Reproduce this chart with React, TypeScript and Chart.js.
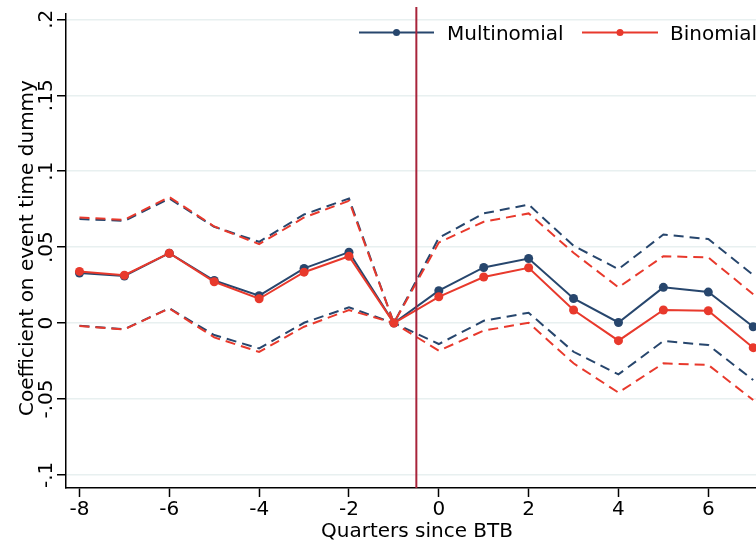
import React, { useEffect, useRef } from "react";
import { Chart, registerables } from "chart.js";

Chart.register(...registerables);

const quarters = [-8, -7, -6, -5, -4, -3, -2, -1, 0, 1, 2, 3, 4, 5, 6, 7];

const multiCoef = [0.033, 0.031, 0.046, 0.028, 0.018, 0.036, 0.0467, 0, 0.0213, 0.0366, 0.0425, 0.0162, 0.0004, 0.0235, 0.0204, -0.0024];
const multiUpper = [0.0685, 0.0673, 0.082, 0.0634, 0.0535, 0.0715, 0.082, 0, 0.0561, 0.0722, 0.078, 0.0509, 0.0355, 0.0583, 0.0553, 0.0316];
const multiLower = [-0.0018, -0.004, 0.0098, -0.0079, -0.0167, 0.0002, 0.0103, 0, -0.0138, 0.0015, 0.0068, -0.0189, -0.0338, -0.0118, -0.0145, -0.0375];

const binCoef = [0.034, 0.0315, 0.046, 0.0272, 0.016, 0.0335, 0.044, 0, 0.0173, 0.0303, 0.0364, 0.0086, -0.0116, 0.0086, 0.0081, -0.0162];
const binUpper = [0.0695, 0.068, 0.083, 0.0636, 0.052, 0.0695, 0.0805, 0, 0.053, 0.0667, 0.0722, 0.0463, 0.0235, 0.044, 0.0432, 0.019];
const binLower = [-0.002, -0.0042, 0.0096, -0.0094, -0.019, -0.0024, 0.0086, 0, -0.0182, -0.005, 0.0002, -0.0265, -0.0458, -0.0265, -0.0276, -0.0507];

const xTicks = [-8, -6, -4, -2, 0, 2, 4, 6];
const xTickLabels = ["-8", "-6", "-4", "-2", "0", "2", "4", "6"];
const yTicks = [-0.1, -0.05, 0, 0.05, 0.1, 0.15, 0.2];
const yTickLabels = ["-.1", "-.05", "0", ".05", ".1", ".15", ".2"];
const eventLine = -0.5;

const seriesNames = ["Multinomial", "Binomial"];
const xTitle = "Quarters since BTB";
const yTitle = "Coefficient on event time dummy";

const NAVY = "#27466d";
const RED = "#e8392c";
const MAROON = "#a8243a";
const FONT = '20px "DejaVu Sans"';

const toPts = (vals: number[]) => quarters.map((q, i) => ({ x: q, y: vals[i] }));

const zeroPad = (s: any) => {
  s.paddingLeft = 0;
  s.paddingRight = 0;
  s.paddingTop = 0;
  s.paddingBottom = 0;
};

const overlay = {
  id: "overlay",
  afterDraw(chart: any) {
    const ctx = chart.ctx as CanvasRenderingContext2D;
    const xs = chart.scales.x;
    const ys = chart.scales.y;
    const area = chart.chartArea;
    ctx.save();
    ctx.font = FONT;
    ctx.fillStyle = "#000";
    // y tick labels (rotated)
    yTicks.forEach((v, i) => {
      const py = ys.getPixelForValue(v);
      ctx.save();
      ctx.translate(52, py);
      ctx.rotate(-Math.PI / 2);
      ctx.textAlign = "center";
      ctx.textBaseline = "alphabetic";
      ctx.fillText(yTickLabels[i], 0, 0);
      ctx.restore();
    });
    // x tick labels
    ctx.textAlign = "center";
    ctx.textBaseline = "alphabetic";
    xTicks.forEach((v, i) => {
      ctx.fillText(xTickLabels[i], xs.getPixelForValue(v), 515);
    });
    // x title
    ctx.fillText(xTitle, 417, 537);
    // y title
    ctx.save();
    ctx.translate(33, 248);
    ctx.rotate(-Math.PI / 2);
    ctx.textAlign = "center";
    ctx.fillText(yTitle, 0, 0);
    ctx.restore();

    // legend
    const items = [
      { label: seriesNames[0], color: NAVY, x0: 359, x1: 434, tx: 447 },
      { label: seriesNames[1], color: RED, x0: 582, x1: 658, tx: 670 },
    ];
    const ly = 32.5;
    items.forEach((it) => {
      ctx.strokeStyle = it.color;
      ctx.lineWidth = 2;
      ctx.beginPath();
      ctx.moveTo(it.x0, ly);
      ctx.lineTo(it.x1, ly);
      ctx.stroke();
      ctx.fillStyle = it.color;
      ctx.beginPath();
      ctx.arc((it.x0 + it.x1) / 2, ly, 3.5, 0, Math.PI * 2);
      ctx.fill();
      ctx.fillStyle = "#000";
      ctx.textAlign = "left";
      ctx.fillText(it.label, it.tx, 39.6);
    });

    // event line
    const px = xs.getPixelForValue(eventLine);
    ctx.strokeStyle = MAROON;
    ctx.lineWidth = 2;
    ctx.beginPath();
    ctx.moveTo(px, area.top - 7);
    ctx.lineTo(px, area.bottom);
    ctx.stroke();
    ctx.restore();
  },
};

export default function App() {
  const ref = useRef<HTMLCanvasElement | null>(null);
  useEffect(() => {
    if (!ref.current) return;
    const dashed = (data: number[], color: string, order: number) => ({
      data: toPts(data),
      borderColor: color,
      backgroundColor: color,
      borderWidth: 2,
      borderDash: [10, 6],
      pointRadius: 0,
      fill: false,
      tension: 0,
      order,
      clip: false as any,
    });
    const solid = (label: string, data: number[], color: string, order: number) => ({
      label,
      data: toPts(data),
      borderColor: color,
      backgroundColor: color,
      borderWidth: 2,
      pointRadius: 4.5,
      pointBorderWidth: 0,
      pointBackgroundColor: color,
      fill: false,
      tension: 0,
      order,
      clip: false as any,
    });
    const chart = new Chart(ref.current, {
      type: "line",
      data: {
        datasets: [
          dashed(multiUpper, NAVY, 6),
          dashed(multiLower, NAVY, 5),
          solid(seriesNames[0], multiCoef, NAVY, 4),
          dashed(binUpper, RED, 3),
          dashed(binLower, RED, 2),
          solid(seriesNames[1], binCoef, RED, 1),
        ],
      },
      options: {
        animation: false,
        responsive: false,
        maintainAspectRatio: false,
        devicePixelRatio: 1,
        layout: { autoPadding: false, padding: { top: 14, right: 0, left: 0, bottom: 0 } },
        plugins: { legend: { display: false }, tooltip: { enabled: false } },
        scales: {
          x: {
            type: "linear",
            min: -8.3,
            max: 7.062,
            afterBuildTicks: (s: any) => {
              s.ticks = xTicks.map((v) => ({ value: v }));
            },
            afterFit: (s: any) => {
              s.height = 55;
              zeroPad(s);
            },
            ticks: { display: false },
            grid: {
              drawOnChartArea: false,
              drawTicks: true,
              tickLength: 9,
              tickColor: "#000",
              tickWidth: 1.5,
            },
            border: { display: true, color: "#000", width: 1.5 },
          },
          y: {
            type: "linear",
            min: -0.1086,
            max: 0.2035,
            afterBuildTicks: (s: any) => {
              s.ticks = yTicks.map((v) => ({ value: v }));
            },
            afterFit: (s: any) => {
              s.width = 66;
              zeroPad(s);
            },
            ticks: { display: false },
            grid: {
              drawOnChartArea: true,
              color: "#e8f0f0",
              lineWidth: 1.5,
              drawTicks: true,
              tickLength: 9,
              tickColor: "#000",
              tickWidth: 1.5,
            },
            border: { display: true, color: "#000", width: 1.5 },
          },
        },
      },
      plugins: [overlay],
    });
    return () => chart.destroy();
  }, []);
  return (
    <div style={{ position: "fixed", left: 0, top: 0, width: 756, height: 543, background: "#fff" }}>
      <canvas ref={ref} width={756} height={543} style={{ width: 756, height: 543, display: "block" }} />
    </div>
  );
}
